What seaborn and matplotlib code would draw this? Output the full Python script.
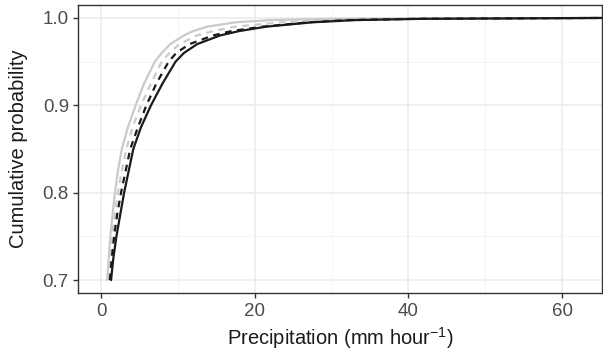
import numpy as np
import pandas as pd
import matplotlib
matplotlib.use("Agg")
import matplotlib.pyplot as plt
import seaborn as sns

# cumulative probability levels
prob = [0.70, 0.725, 0.75, 0.775, 0.80, 0.825, 0.85, 0.875, 0.90, 0.925,
        0.95, 0.96, 0.97, 0.98, 0.985, 0.99, 0.995, 0.9975, 0.999, 1.0]
# precipitation (mm/hour) at each level, per series
black_solid  = [1.30, 1.60, 2.0, 2.5, 3.0, 3.6, 4.2, 5.2, 6.5, 8.0,
                9.7, 10.8, 12.5, 15.5, 18.0, 21.5, 27.5, 33.0, 42.0, 66.0]
black_dashed = [1.15, 1.40, 1.7, 2.1, 2.6, 3.2, 3.8, 4.8, 5.9, 7.2,
                8.8, 9.8, 11.5, 14.6, 17.0, 21.0, 27.0, 32.0, 41.0, 66.0]
gray_dashed  = [1.00, 1.20, 1.4, 1.8, 2.2, 2.7, 3.3, 4.1, 5.2, 6.5,
                7.9, 8.9, 10.2, 12.5, 14.6, 17.5, 23.5, 29.0, 37.0, 66.0]
gray_solid   = [0.80, 1.00, 1.2, 1.5, 1.8, 2.2, 2.7, 3.5, 4.5, 5.6,
                7.0, 7.9, 9.0, 10.8, 12.0, 13.8, 17.5, 22.0, 30.0, 66.0]

series = [
    ("gray_solid", gray_solid, "#cacaca", "-"),
    ("gray_dashed", gray_dashed, "#cacaca", (0, (3, 2.5))),
    ("black_dashed", black_dashed, "#1a1a1a", (0, (3, 2.5))),
    ("black_solid", black_solid, "#1a1a1a", "-"),
]

sns.set_theme(style="whitegrid")
plt.rcParams['font.family'] = ['Liberation Sans', 'DejaVu Sans']
plt.rcParams['mathtext.fontset'] = 'custom'
plt.rcParams['mathtext.rm'] = 'Liberation Sans'
plt.rcParams['mathtext.it'] = 'Liberation Sans'

fig = plt.figure(figsize=(6.03, 3.53), dpi=100)
ax = fig.add_axes([78/603, 1-293/353, (602-78)/603, (293-5)/353])

for name, xs, col, ls in series:
    df = pd.DataFrame({"x": xs, "p": prob})
    sns.lineplot(data=df, x="x", y="p", color=col, linewidth=1.6,
                 linestyle=ls, sort=False, estimator=None, ax=ax)

ax.set_xlim(-3.0, 65.2)
ax.set_ylim(0.6852, 1.0148)
ax.set_xticks([0, 20, 40, 60])
ax.set_yticks([0.7, 0.8, 0.9, 1.0])
ax.set_yticklabels(["0.7", "0.8", "0.9", "1.0"])
ax.set_xticks([10, 30, 50], minor=True)
ax.set_yticks([0.75, 0.85, 0.95], minor=True)
ax.grid(which="major", color="#ebebeb", linewidth=1.1)
ax.grid(which="minor", color="#f2f2f2", linewidth=0.6)
ax.set_facecolor("white")
for s in ax.spines.values():
    s.set_color("#333333")
    s.set_linewidth(1.0)
ax.tick_params(axis="both", which="major", length=3.5, width=1.0, color="#333333",
               labelcolor="#4d4d4d", labelsize=13.5, direction="out",
               bottom=True, left=True)
ax.tick_params(axis="x", which="major", pad=4)
ax.tick_params(axis="y", which="major", pad=3)
ax.tick_params(which="minor", length=0)
ax.set_xlabel(r"Precipitation (mm hour$^{-1}$)", fontsize=14.5, color="#1a1a1a")
ax.set_ylabel("Cumulative probability", fontsize=14.5, color="#1a1a1a")
ax.yaxis.set_label_coords(-0.0954, 0.5)
ax.xaxis.set_label_coords(0.5, -0.112)

fig.savefig("out.png", dpi=100)
